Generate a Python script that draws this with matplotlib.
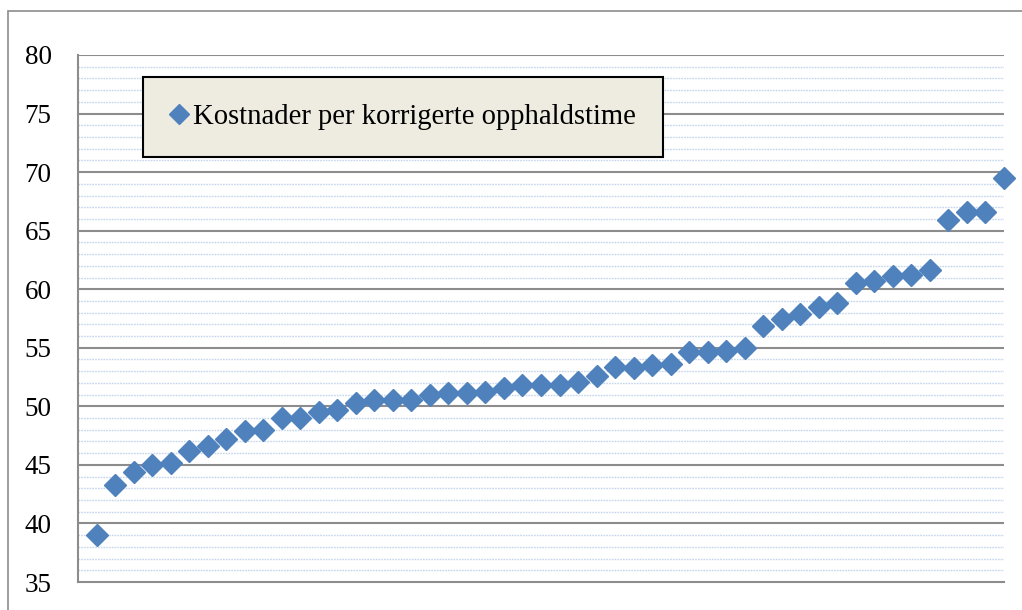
import numpy as np
import matplotlib.pyplot as plt
from matplotlib.patches import Rectangle

# Kostnader per korrigerte opphaldstime, sortert stigande
positions = np.arange(1, 51)
kostnader = [39.0, 43.3, 44.4, 45.0, 45.2, 46.2, 46.6, 47.2, 47.9, 48.0,
             49.0, 49.0, 49.5, 49.7, 50.3, 50.5, 50.5, 50.5, 51.0, 51.1,
             51.1, 51.2, 51.6, 51.8, 51.8, 51.8, 52.1, 52.6, 53.4, 53.3,
             53.5, 53.6, 54.6, 54.6, 54.7, 55.0, 56.9, 57.5, 57.9, 58.5,
             58.8, 60.5, 60.7, 61.1, 61.2, 61.6, 65.9, 66.6, 66.6, 69.5]
y_ticks = [35, 40, 45, 50, 55, 60, 65, 70, 75, 80]
label = "Kostnader per korrigerte opphaldstime"

W, H = 1022, 610
fig = plt.figure(figsize=(W / 100, H / 100), dpi=100)
ax = fig.add_axes([78 / W, 1 - 582 / H, (1004 - 78) / W, (582 - 55) / H])

ax.set_xlim(0, 50)
ax.set_ylim(35, 80)

# gridlines: minor dotted blue each unit, major grey every 5
for v in range(36, 80):
    if v % 5:
        ax.axhline(v, color="#C5D6EC", lw=1.0, ls=(0, (1.2, 0.8)), zorder=0)
for v in y_ticks[1:]:
    ax.axhline(v, color="#8C8C8C", lw=1.5, zorder=1)

ax.plot(positions, kostnader, ls="none", marker="D", ms=10.8,
        color="#4F81BD", mec="#4F81BD", label=label, zorder=3, clip_on=False)

ax.set_xticks([])
ax.set_yticks(y_ticks)
ax.tick_params(axis="y", length=0, pad=19, labelsize=19.5)
for t in ax.get_yticklabels():
    t.set_fontfamily("Liberation Serif")

for s in ["top", "right"]:
    ax.spines[s].set_visible(False)
for s in ["left", "bottom"]:
    ax.spines[s].set_color("#8C8C8C")
    ax.spines[s].set_linewidth(1.5)

leg = ax.legend(loc="upper left", bbox_to_anchor=(143 / W, 1 - 77 / H),
                bbox_transform=fig.transFigure, borderaxespad=0,
                fancybox=False, framealpha=1, borderpad=0.95,
                handlelength=0.6, handletextpad=0.2, markerscale=0.95,
                prop={"family": "Liberation Serif", "size": 20.6})
leg.get_frame().set_facecolor("#EEECE1")
leg.get_frame().set_edgecolor("black")
leg.get_frame().set_linewidth(1.5)

# outer chart border
fig.patches.append(Rectangle((8 / W, -0.1), 1.2, 1 - 11 / H + 0.1,
                             transform=fig.transFigure, fill=False,
                             ec="#8C8C8C", lw=1.2))

fig.savefig("out.png", dpi=100)
